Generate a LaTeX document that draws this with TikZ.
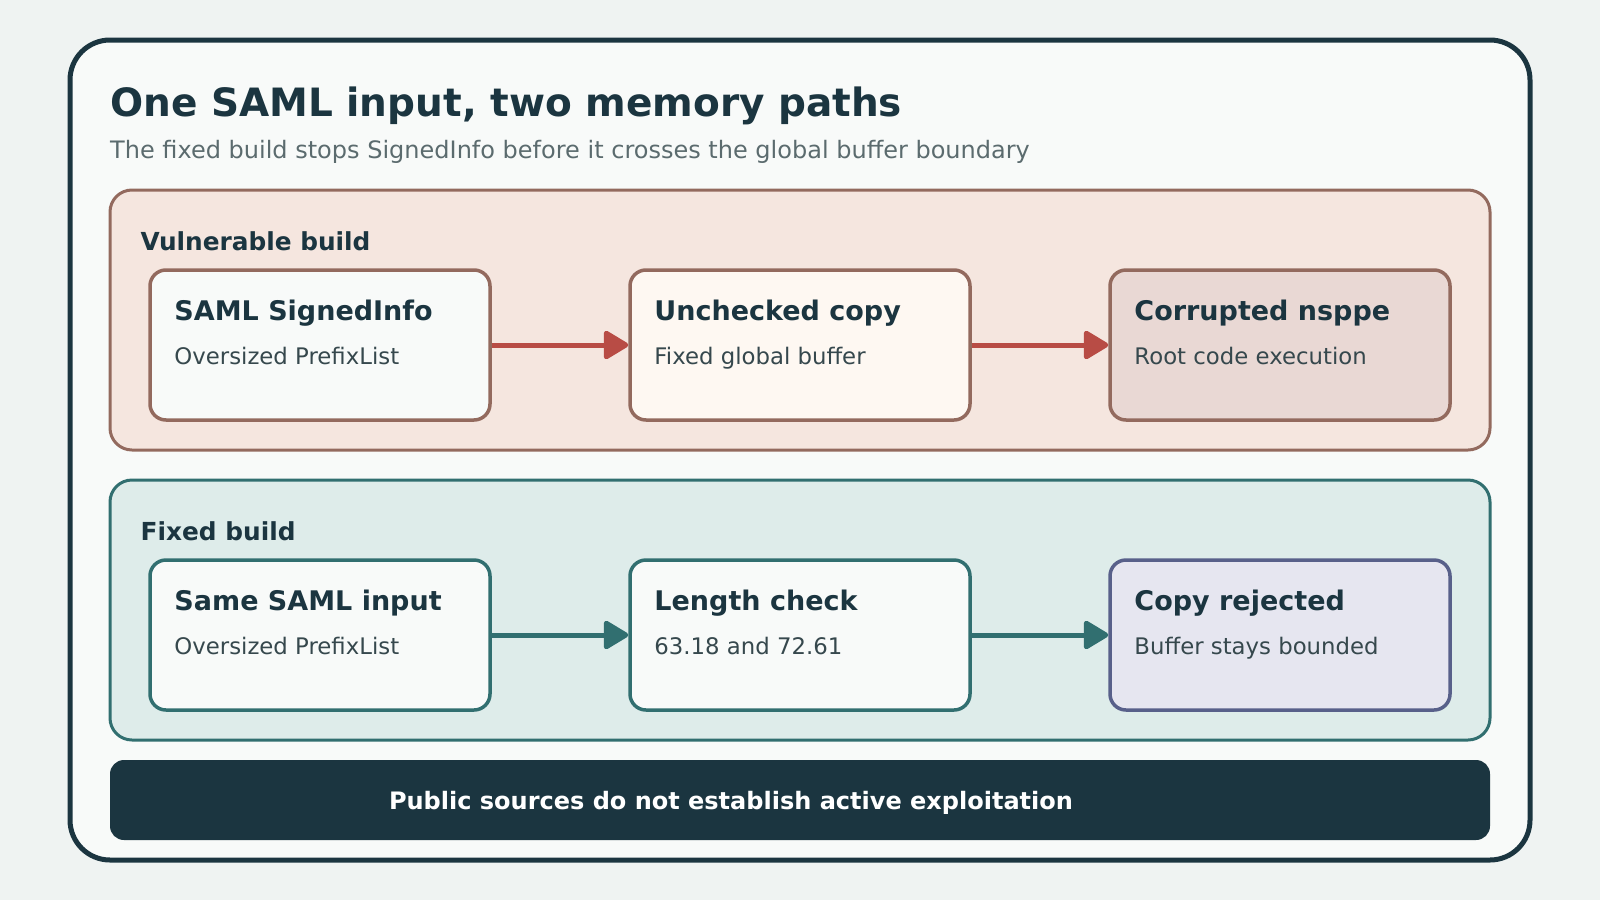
\documentclass[tikz,border=0pt]{standalone}
\usepackage{fontspec}
\setmainfont{DejaVu Sans}
\usetikzlibrary{arrows.meta,positioning}
\definecolor{bgcol}{HTML}{EFF3F2}
\definecolor{paper}{HTML}{F8FAF9}
\definecolor{ink}{HTML}{1B3540}
\definecolor{subink}{HTML}{5B6B6E}
\definecolor{bodyink}{HTML}{36484D}
\definecolor{vulnfill}{HTML}{F5E6DF}
\definecolor{vulnline}{HTML}{936A5E}
\definecolor{vulnarrow}{HTML}{B84C45}
\definecolor{cream}{HTML}{FEF8F2}
\definecolor{rose}{HTML}{E9D8D4}
\definecolor{fixfill}{HTML}{DEECEA}
\definecolor{fixline}{HTML}{316F70}
\definecolor{lilac}{HTML}{E6E6F0}
\definecolor{lilacline}{HTML}{58608A}

\begin{document}
\begin{tikzpicture}[
    x=1pt, y=-1pt,
    node distance=480pt,
    >={Triangle[length=27pt,width=31pt,round]},
    frame/.style={
		draw=ink,
		line width=5pt,
		rounded corners=40pt,
		fill=paper
	},
	panel/.style={
		rectangle,
		rounded corners=22pt,
		line width=3pt,
		minimum width=1380pt,
		minimum height=260pt
	},
	card/.style={
		rectangle,
		rounded corners=16pt,
		line width=3.5pt,
		minimum width=340pt,
		minimum height=150pt
	},
	paneltitle/.style={
		anchor=base west,
		inner sep=0pt,
		text=ink,
		font=\fontsize{24.8}{28}\selectfont\bfseries
	},
	head/.style={
		anchor=base west,
		inner sep=0pt,
		text=ink,
		font=\fontsize{27}{31}\selectfont\bfseries
	},
	sub/.style={
		anchor=base west,
		inner sep=0pt,
		text=bodyink,
		font=\fontsize{22.8}{26}\selectfont
	},
	flow/.style={
		line width=5pt,
		->
	}
  ]

 \fill [bgcol] (0,0) rectangle (1600,900);
 \useasboundingbox (0,0) rectangle (1600,900);

% // The frame
 \draw [frame] (70,40) rectangle (1530,860);
 \node [anchor=base west, inner sep=0pt, text=ink,
   font=\fontsize{39}{44}\selectfont\bfseries] (title) at (110,116)
   {One SAML input, two memory paths};
 \node [anchor=base west, inner sep=0pt, text=subink,
   font=\fontsize{24}{28}\selectfont] (subtitle) at (110,158)
   {The fixed build stops SignedInfo before it crosses the global buffer boundary};

% // Vulnerable build
 \node [panel, draw=vulnline, fill=vulnfill] (vulnpanel) at (800,320) {};
 \node [paneltitle] at ([xshift=32pt, yshift=-62pt]vulnpanel.north west) {Vulnerable build};

 \node [card, draw=vulnline, fill=paper] (signedinfo) at (320,345) {};
 \node [card, draw=vulnline, fill=cream, right of=signedinfo] (unchecked) {};
 \node [card, draw=vulnline, fill=rose, right of=unchecked] (nsppe) {};

 \node [head] at ([xshift=26pt, yshift=-52pt]signedinfo.north west) {SAML SignedInfo};
 \node [sub]  at ([xshift=26pt, yshift=-96pt]signedinfo.north west) {Oversized PrefixList};
 \node [head] at ([xshift=26pt, yshift=-52pt]unchecked.north west) {Unchecked copy};
 \node [sub]  at ([xshift=26pt, yshift=-96pt]unchecked.north west) {Fixed global buffer};
 \node [head] at ([xshift=26pt, yshift=-52pt]nsppe.north west) {Corrupted nsppe};
 \node [sub]  at ([xshift=26pt, yshift=-96pt]nsppe.north west) {Root code execution};

 \draw [flow, draw=vulnarrow, fill=vulnarrow] (signedinfo) -- (unchecked);
 \draw [flow, draw=vulnarrow, fill=vulnarrow] (unchecked) -- (nsppe);

% // Fixed build
 \node [panel, draw=fixline, fill=fixfill] (fixpanel) at (800,610) {};
 \node [paneltitle] at ([xshift=32pt, yshift=-62pt]fixpanel.north west) {Fixed build};

 \node [card, draw=fixline, fill=paper] (sameinput) at (320,635) {};
 \node [card, draw=fixline, fill=paper, right of=sameinput] (lencheck) {};
 \node [card, draw=lilacline, fill=lilac, right of=lencheck] (rejected) {};

 \node [head] at ([xshift=26pt, yshift=-52pt]sameinput.north west) {Same SAML input};
 \node [sub]  at ([xshift=26pt, yshift=-96pt]sameinput.north west) {Oversized PrefixList};
 \node [head] at ([xshift=26pt, yshift=-52pt]lencheck.north west) {Length check};
 \node [sub]  at ([xshift=26pt, yshift=-96pt]lencheck.north west) {63.18 and 72.61};
 \node [head] at ([xshift=26pt, yshift=-52pt]rejected.north west) {Copy rejected};
 \node [sub]  at ([xshift=26pt, yshift=-96pt]rejected.north west) {Buffer stays bounded};

 \draw [flow, draw=fixline, fill=fixline] (sameinput) -- (lencheck);
 \draw [flow, draw=fixline, fill=fixline] (lencheck) -- (rejected);

% // Footer
 \node [rectangle, rounded corners=14pt, fill=ink,
   minimum width=1380pt, minimum height=80pt] (footer) at (800,800) {};
 \node [text=white, inner sep=0pt, font=\fontsize{24}{28}\selectfont\bfseries]
   at (731,803) {Public sources do not establish active exploitation};

\end{tikzpicture}
\end{document}
